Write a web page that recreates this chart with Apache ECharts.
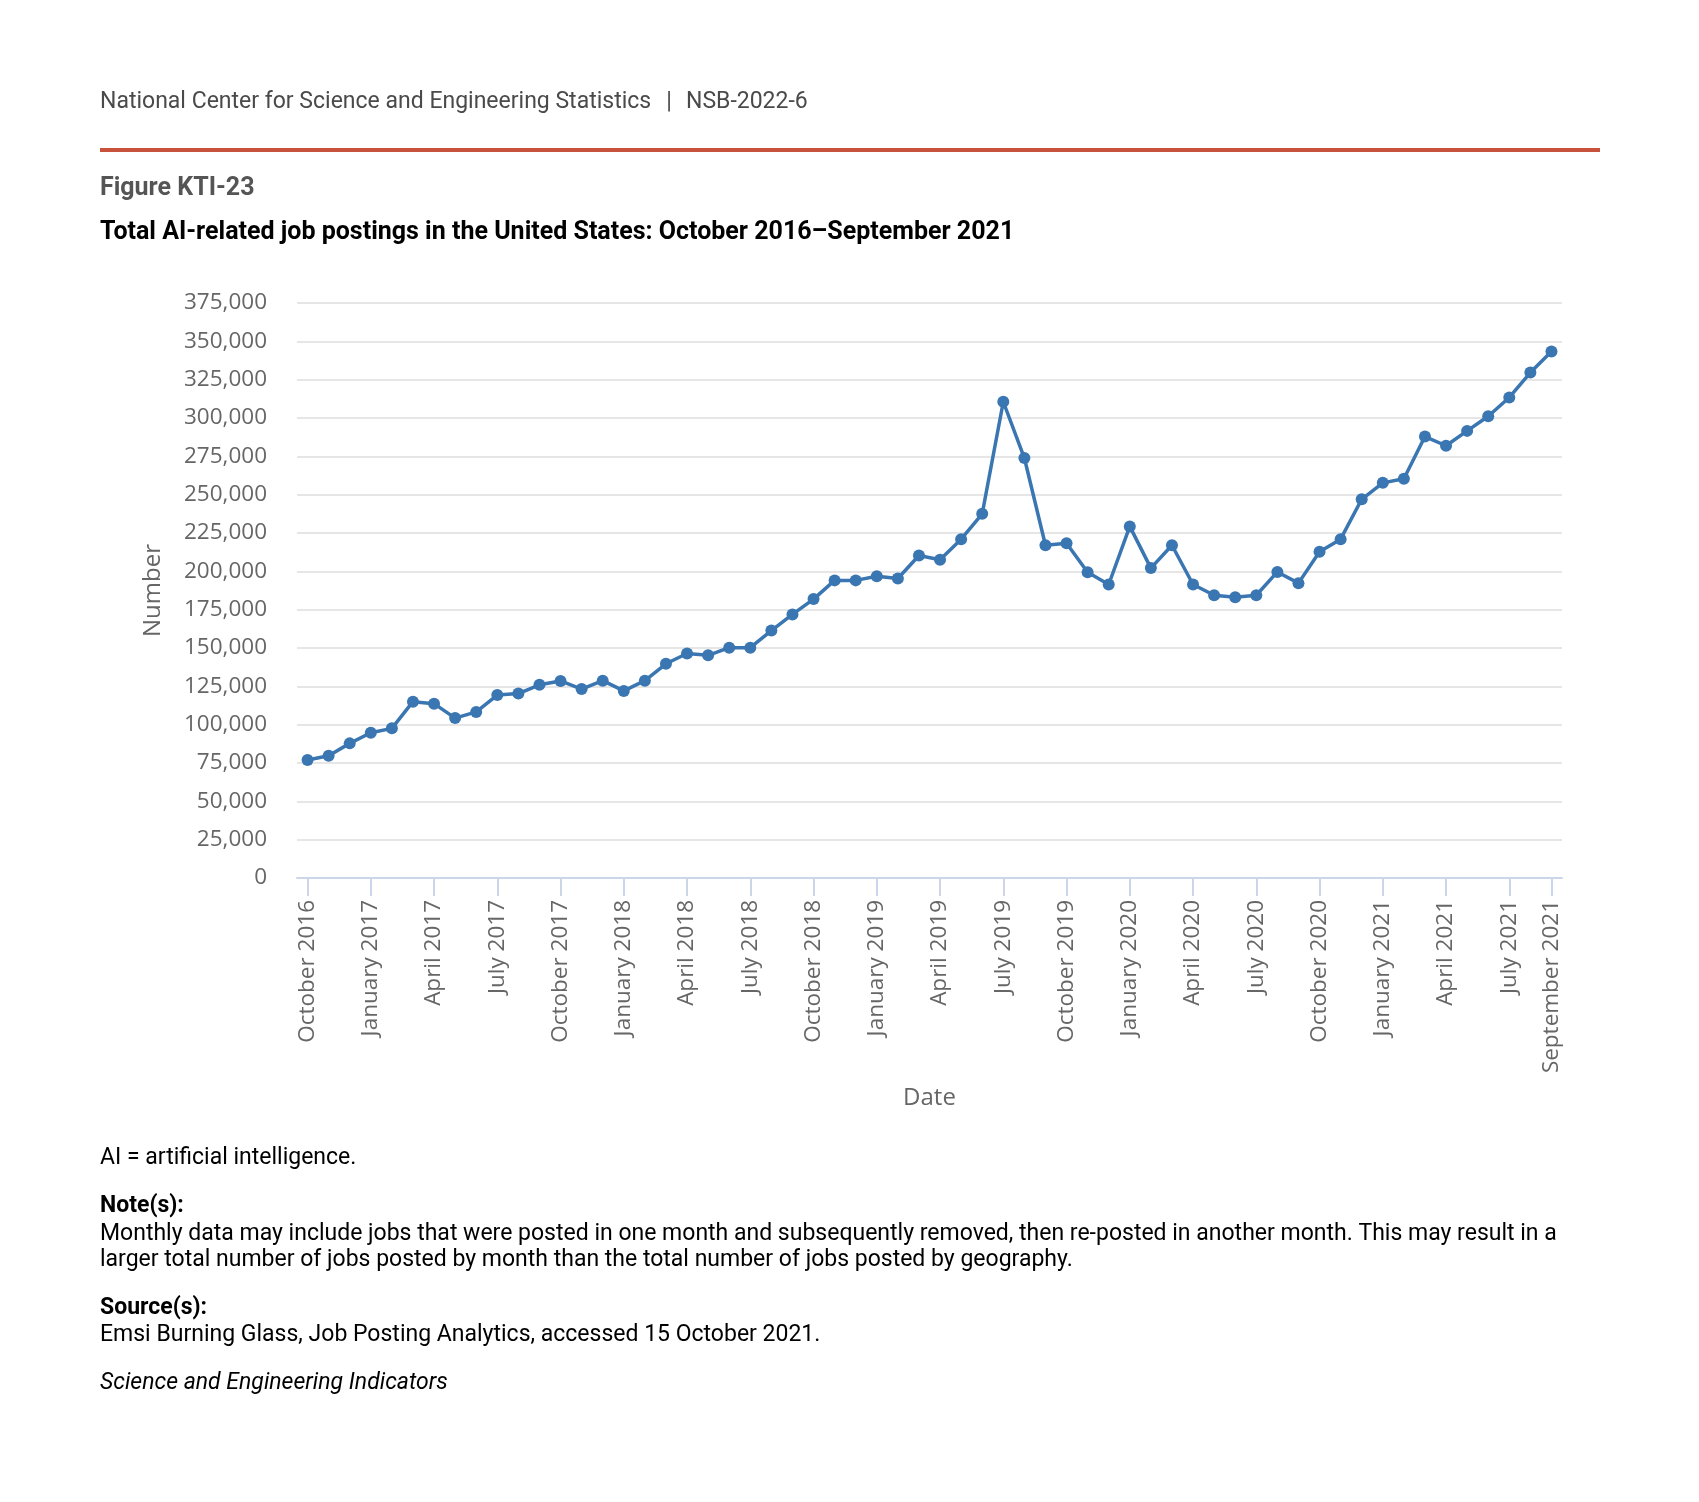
<!DOCTYPE html>
<html>
<head>
<meta charset="utf-8">
<script src="https://cdn.jsdelivr.net/npm/echarts@6/dist/echarts.min.js"></script>
<style>
  html, body { margin: 0; padding: 0; background: #ffffff; }
  #chart { width: 1699px; height: 1502px; }
</style>
</head>
<body>
<div id="chart"></div>
<script>
// ---- Data ----
const months = [
  "October 2016","November 2016","December 2016",
  "January 2017","February 2017","March 2017","April 2017","May 2017","June 2017",
  "July 2017","August 2017","September 2017","October 2017","November 2017","December 2017",
  "January 2018","February 2018","March 2018","April 2018","May 2018","June 2018",
  "July 2018","August 2018","September 2018","October 2018","November 2018","December 2018",
  "January 2019","February 2019","March 2019","April 2019","May 2019","June 2019",
  "July 2019","August 2019","September 2019","October 2019","November 2019","December 2019",
  "January 2020","February 2020","March 2020","April 2020","May 2020","June 2020",
  "July 2020","August 2020","September 2020","October 2020","November 2020","December 2020",
  "January 2021","February 2021","March 2021","April 2021","May 2021","June 2021",
  "July 2021","August 2021","September 2021"
];

const postings = [
  77000, 79700, 87800, 94700, 97600, 115000, 113700, 104300, 108300,
  119300, 120300, 126000, 128500, 123200, 128700, 122000, 128700, 139700,
  146400, 145200, 150200, 150200, 161400, 171900, 181900, 194100, 194100,
  196800, 195300, 210300, 207600, 221000, 237500, 310600, 273900, 217000,
  218300, 199400, 191400, 229300, 202100, 217000, 191400, 184400, 183100,
  184400, 199600, 192300, 212800, 221000, 247000, 257700, 260400, 287900,
  281900, 291600, 301100, 313400, 329600, 343300
];

const labeledMonths = [
  "October 2016","January 2017","April 2017","July 2017","October 2017",
  "January 2018","April 2018","July 2018","October 2018","January 2019",
  "April 2019","July 2019","October 2019","January 2020","April 2020",
  "July 2020","October 2020","January 2021","April 2021","July 2021",
  "September 2021"
];

const yTicks = [0, 25000, 50000, 75000, 100000, 125000, 150000, 175000, 200000,
  225000, 250000, 275000, 300000, 325000, 350000, 375000];

const headerText = "National Center for Science and Engineering Statistics";
const reportId = "NSB-2022-6";
const figureLabel = "Figure KTI-23";
const titleText = "Total AI-related job postings in the United States: October 2016\u2013September 2021";
const abbrevText = "AI = artificial intelligence.";
const noteHead = "Note(s):";
const noteLines = [
  "Monthly data may include jobs that were posted in one month and subsequently removed, then re-posted in another month. This may result in a",
  "larger total number of jobs posted by month than the total number of jobs posted by geography."
];
const sourceHead = "Source(s):";
const sourceText = "Emsi Burning Glass, Job Posting Analytics, accessed 15 October 2021.";
const publication = "Science and Engineering Indicators";

// ---- Chart ----
const chart = echarts.init(document.getElementById('chart'), null, { renderer: 'canvas' });
const labeledSet = new Set(labeledMonths);
const showIdx = (i) => labeledSet.has(months[i]);

const txtFont = 'Roboto, "Liberation Sans", Arial, sans-serif';
function txt(text, x, y, size, opts) {
  opts = opts || {};
  return {
    type: 'text', x: x, y: y, silent: true,
    style: {
      text: text,
      fontFamily: txtFont,
      fontSize: size,
      fontWeight: opts.weight || 'normal',
      fontStyle: opts.style || 'normal',
      fill: opts.fill || '#000000',
      align: opts.align || 'left',
      verticalAlign: 'middle'
    }
  };
}

const option = {
  animation: false,
  backgroundColor: '#ffffff',
  grid: { left: 297, right: 137, top: 303, bottom: 624, containLabel: false },
  xAxis: {
    type: 'category',
    data: months,
    boundaryGap: true,
    name: 'Date',
    nameLocation: 'middle',
    nameGap: 208,
    nameTextStyle: { fontFamily: '"Open Sans", sans-serif', fontSize: 24, color: '#666666' },
    axisLine: { show: true, lineStyle: { color: '#ccd6eb', width: 2 } },
    axisTick: { show: true, alignWithLabel: true, length: 18, interval: (i) => showIdx(i), lineStyle: { color: '#ccd6eb', width: 2 } },
    axisLabel: {
      interval: (i) => showIdx(i),
      rotate: 90,
      margin: 22,
      fontFamily: '"Open Sans", sans-serif',
      fontSize: 22.5,
      color: '#666666'
    },
    splitLine: { show: false }
  },
  yAxis: {
    type: 'value',
    min: yTicks[0],
    max: yTicks[yTicks.length - 1],
    interval: yTicks[1] - yTicks[0],
    name: 'Number',
    nameLocation: 'middle',
    nameGap: 132,
    nameRotate: 90,
    nameTextStyle: { fontFamily: '"Open Sans", sans-serif', fontSize: 24, color: '#666666' },
    axisLine: { show: false },
    axisTick: { show: false },
    axisLabel: {
      margin: 30,
      fontFamily: '"Open Sans", sans-serif',
      fontSize: 22.5,
      color: '#666666',
      formatter: (v) => v.toLocaleString('en-US')
    },
    splitLine: { show: true, lineStyle: { color: '#e6e6e6', width: 2 } }
  },
  series: [{
    type: 'line',
    data: postings,
    symbol: 'circle',
    symbolSize: 12,
    showSymbol: true,
    lineStyle: { color: '#3a76b1', width: 3.5 },
    itemStyle: { color: '#3a76b1' },
    z: 5
  }],
  graphic: [
    txt(headerText, 100, 102.5, 23, { fill: '#4a4a4a' }),
    txt('|', 669, 102.5, 23, { fill: '#4a4a4a', align: 'center' }),
    txt(reportId, 686, 102.5, 23, { fill: '#4a4a4a' }),
    { type: 'rect', silent: true, shape: { x: 100, y: 148, width: 1500, height: 4 }, style: { fill: '#c9523c' } },
    txt(figureLabel, 100, 188.5, 25, { weight: 'bold', fill: '#555555' }),
    txt(titleText, 100, 232.5, 25, { weight: 'bold', fill: '#000000' }),
    txt(abbrevText, 100, 1158, 23),
    txt(noteHead, 100, 1206, 23, { weight: 'bold' }),
    txt(noteLines[0], 100, 1234, 23),
    txt(noteLines[1], 100, 1260, 23),
    txt(sourceHead, 100, 1308, 23, { weight: 'bold' }),
    txt(sourceText, 100, 1335, 23),
    txt(publication, 100, 1383.5, 23, { style: 'italic' })
  ]
};
chart.setOption(option);
</script>
</body>
</html>
